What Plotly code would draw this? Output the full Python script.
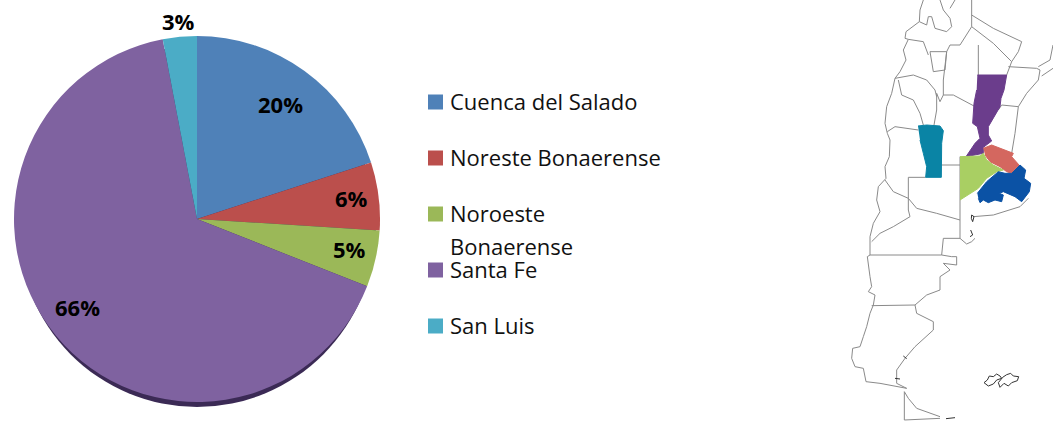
import plotly.graph_objects as go

# ---- pie data ----
regions = ["Cuenca del Salado", "Noreste Bonaerense", "Noroeste Bonaerense", "Santa Fe", "San Luis"]
legend_labels = ["Cuenca del Salado", "Noreste Bonaerense", "Noroeste<br>Bonaerense", "Santa Fe", "San Luis"]
shares = [20, 6, 5, 66, 3]
colors = ["#4f81b8", "#bb4f4c", "#9bb858", "#7f62a0", "#4bacc6"]

W, H = 1053, 421
FONT = "Open Sans"

# ---- map outlines (map units) ----
map_lines = [
    # western border
    [(430,0),(420,30),(418,65),(378,95),(375,115),(385,118),(370,150),(378,180),(360,215),(345,235),(335,280),(320,320),(315,370),(322,400),(330,420),(328,470),(315,500),(318,535),(295,560),(290,600),(300,635),(280,670),(270,710),(270,765),(262,770),(265,800),(270,830),(275,860),(265,875),(285,885),(280,915),(270,940),(260,980),(250,1010),(240,1040),(218,1045),(215,1075),(225,1100),(250,1105),(258,1145),(300,1150),(380,1165)],
    # Jujuy
    [(480,0),(490,30),(510,55),(515,80),(500,95),(465,85),(455,50),(445,50),(440,75),(418,65)],
    [(510,25),(525,0)],
    # Formosa / Chaco
    [(575,0),(575,80),(540,135),(510,135),(500,155),(490,240),(490,285),(480,305),(470,280),(470,330),(462,375)],
    [(575,45),(640,85),(725,125),(715,155),(695,185),(680,225)],
    [(575,80),(640,130),(695,185)],
    [(595,135),(595,225)],
    # Santiago / Cordoba
    [(490,285),(520,285),(582,318)],
    # Misiones / Corrientes
    [(685,200),(770,205),(780,210),(775,240),(740,280),(715,320),(665,315),(655,330)],
    [(715,320),(705,400),(695,460)],
    [(819,135),(810,180),(775,200)],
    [(819,205),(785,228)],
    # Catamarca / Tucuman / Salta
    [(345,235),(400,225),(440,240),(465,270),(470,290)],
    [(355,240),(365,285),(400,300),(420,340),(430,375)],
    [(450,155),(460,215),(495,210),(500,155),(450,155)],
    [(385,118),(430,125),(445,165)],
    # La Rioja / San Juan / Mendoza
    [(322,395),(345,380),(415,390)],
    [(437,532),(385,532),(385,630),(390,650),(340,680),(300,700),(275,725)],
    [(315,540),(340,575),(385,595),(410,625),(470,640),(540,660)],
    [(485,495),(540,495)],
    [(540,470),(540,715)],
    # Rio Negro, Chubut, Santa Cruz
    [(270,765),(485,765)],
    [(540,715),(560,732),(575,725),(585,715)],
    [(540,715),(490,715),(485,765),(515,770),(530,770),(530,795),(490,790),(510,810),(480,830),(480,870),(440,885),(405,915),(275,917)],
    [(405,915),(410,940),(460,965),(460,990),(405,1040),(375,1075),(350,1110),(350,1150),(380,1165)],
    # Buenos Aires coast
    [(580,650),(640,645),(720,620),(745,595)],
    # Tierra del Fuego
    [(373,1175),(373,1260),(480,1255)],
    [(373,1175),(385,1195),(410,1225),(480,1250)],
]
map_dark_lines = [
    [(575,645),(582,650),(578,665),(574,655),(575,645)],
    [(572,690),(578,705),(570,710)],
    [(498,1256),(525,1253)],
    [(345,1135),(360,1137)],
    [(370,1068),(380,1076)],
    # Malvinas
    [(612,1148),(622,1140),(628,1128),(640,1130),(650,1122),(660,1128),(665,1135),(650,1140),(640,1152),(625,1158),(612,1148)],
    [(668,1132),(680,1124),(692,1120),(700,1128),(716,1130),(712,1142),(695,1148),(685,1158),(672,1150),(660,1162),(655,1148),(668,1132)],
]
map_regions = {
    "#6b3d8c": [(592,225),(680,225),(672,270),(663,295),(660,320),(640,355),(625,380),(625,405),(635,423),(610,442),(610,460),(558,470),(585,430),(600,415),(592,380),(578,370),(582,310),(590,270)],
    "#0a84a5": [(414,378),(440,375),(480,378),(490,392),(485,430),(484,532),(437,532),(440,500),(430,460),(420,420)],
    "#d4675f": [(610,445),(635,435),(700,460),(695,470),(717,495),(695,520),(680,515),(660,500),(630,485),(615,465)],
    "#a9cf63": [(540,470),(600,468),(610,460),(620,480),(640,495),(670,510),(650,515),(620,535),(595,565),(540,600)],
    "#0b52a5": [(592,580),(620,545),(655,515),(675,520),(695,520),(720,495),(737,510),(732,535),(752,550),(748,575),(725,605),(705,590),(670,575),(658,580),(670,585),(665,605),(645,600),(625,608),(610,600),(600,608),(595,595)],
}

# ---- layout numbers ----
pie_cx, pie_cy, pie_r = 197, 219, 183
label_xy = [(280,104),(351,198),(349,249),(77,307),(178,21)]
legend_y = [102, 158, 214, 270, 326]

fig = go.Figure()

fig.add_trace(go.Pie(
    labels=regions, values=shares, sort=False, direction="clockwise", rotation=0,
    marker=dict(colors=colors, line=dict(width=0)),
    textinfo="none", showlegend=False, hoverinfo="label+percent",
    domain=dict(x=[(pie_cx-pie_r)/W, (pie_cx+pie_r)/W],
                y=[1-(pie_cy+pie_r)/H, 1-(pie_cy-pie_r)/H]),
))

# map on its own hidden axes
for line in map_lines:
    fig.add_trace(go.Scatter(x=[p[0] for p in line], y=[p[1] for p in line], mode="lines",
                             line=dict(color="#8a8a8a", width=1), xaxis="x2", yaxis="y2",
                             showlegend=False, hoverinfo="skip"))
for line in map_dark_lines:
    fig.add_trace(go.Scatter(x=[p[0] for p in line], y=[p[1] for p in line], mode="lines",
                             line=dict(color="#333333", width=1), xaxis="x2", yaxis="y2",
                             showlegend=False, hoverinfo="skip"))
for col, poly in map_regions.items():
    fig.add_trace(go.Scatter(x=[p[0] for p in poly], y=[p[1] for p in poly], mode="lines",
                             fill="toself", fillcolor=col, line=dict(color=col, width=1),
                             xaxis="x2", yaxis="y2", showlegend=False, hoverinfo="skip"))

# legend swatches
fig.add_trace(go.Scatter(x=[435.5]*5, y=legend_y, mode="markers",
                         marker=dict(symbol="square", size=15, color=colors),
                         showlegend=False, hoverinfo="skip"))

anns = []
for v, (x, y) in zip(shares, label_xy):
    anns.append(dict(x=x, y=y, xref="x", yref="y", text=f"<b>{v}%</b>", showarrow=False,
                     font=dict(family=FONT, size=22, color="#000000")))
for lab, y in zip(legend_labels, legend_y):
    for i, part in enumerate(lab.split("<br>")):
        anns.append(dict(x=448, y=y+i*33-1, xref="x", yref="y", text=part, showarrow=False,
                         xanchor="left", font=dict(family=FONT, size=22, color="#111111")))

hidden = dict(visible=False, fixedrange=True)
fig.update_layout(
    width=W, height=H, margin=dict(l=0, r=0, t=0, b=0),
    paper_bgcolor="white", plot_bgcolor="rgba(0,0,0,0)", showlegend=False,
    xaxis=dict(range=[0, W], domain=[0, 1], **hidden),
    yaxis=dict(range=[H, 0], domain=[0, 1], **hidden),
    xaxis2=dict(range=[0, 819], domain=[780/W, 1], anchor="y2", **hidden),
    yaxis2=dict(range=[1263, 0], domain=[0, 1], anchor="x2", **hidden),
    annotations=anns,
    shapes=[dict(type="circle", xref="x", yref="y", layer="below",
                 x0=pie_cx-pie_r+4, x1=pie_cx+pie_r-4, y0=pie_cy-pie_r+10, y1=pie_cy+pie_r+5,
                 fillcolor="#3b2a55", line=dict(width=0))],
)
fig.write_html("out.html", config={"displayModeBar": False},
               post_script="document.body.style.margin='0';")
